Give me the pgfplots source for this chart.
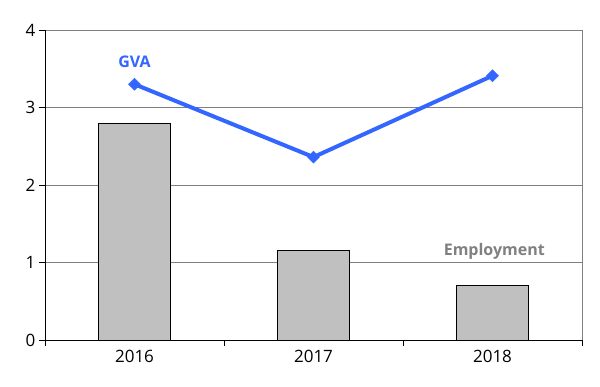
\documentclass[border=0pt]{standalone}
\usepackage{pgfplots}
\pgfplotsset{compat=1.18}
\usepackage{fontspec}
\setmainfont{Open Sans}
\definecolor{gvablue}{RGB}{51,102,255}
\definecolor{barfill}{RGB}{192,192,192}
\definecolor{gridgray}{RGB}{128,128,128}
\begin{document}
\begin{tikzpicture}
\begin{axis}[
  scale only axis,
  width=537pt, height=310pt,
  xmin=-0.5, xmax=2.5,
  ymin=0, ymax=4,
  xtick={0,1,2},
  xticklabels={2016,2017,2018},
  major x tick style={draw=none},
  minor xtick={-0.5,0.5,1.5,2.5},
  minor x tick style={draw=black, thin},
  minor tick length=6pt,
  ytick={0,1,2,3,4},
  ymajorgrids,
  grid style={gridgray, line width=0.8pt},
  tick align=outside,
  major tick length=6pt,
  y tick style={black, thin},
  axis line style={gridgray, line width=0.8pt},
  axis x line*=bottom,
  axis y line*=left,
  tick label style={font=\fontsize{17}{20}\selectfont},
  /pgf/number format/assume math mode=true,
  xticklabel style={yshift=-1pt},
  clip=false,
]
\addplot[ybar, bar width=72pt, fill=barfill, draw=black, line width=0.8pt, bar shift=0pt]
  coordinates {(0,2.79) (1,1.16) (2,0.70)};
\addplot[gvablue, line width=4pt, mark=square*, mark size=4.2pt, mark options={fill=gvablue, draw=gvablue, line width=0.5pt, rotate=45}]
  coordinates {(0,3.30) (1,2.36) (2,3.41)};
\node[font=\fontsize{16}{18}\selectfont\bfseries, text=gvablue] at (axis cs:0.0,3.59) {GVA};
\node[font=\fontsize{16}{18}\selectfont\bfseries, text=gridgray] at (axis cs:2.01,1.14) {Employment};
\draw[gridgray, line width=0.8pt] (rel axis cs:1,0) -- (rel axis cs:1,1);
\draw[black, line width=0.8pt] (rel axis cs:0,0) -- (rel axis cs:0,1);
\draw[black, line width=0.8pt] (rel axis cs:0,0) -- (rel axis cs:1,0);
\end{axis}
\path ([xshift=-45pt,yshift=-47pt]current axis.south west) rectangle ([xshift=18pt,yshift=30pt]current axis.north east);
\end{tikzpicture}
\end{document}
